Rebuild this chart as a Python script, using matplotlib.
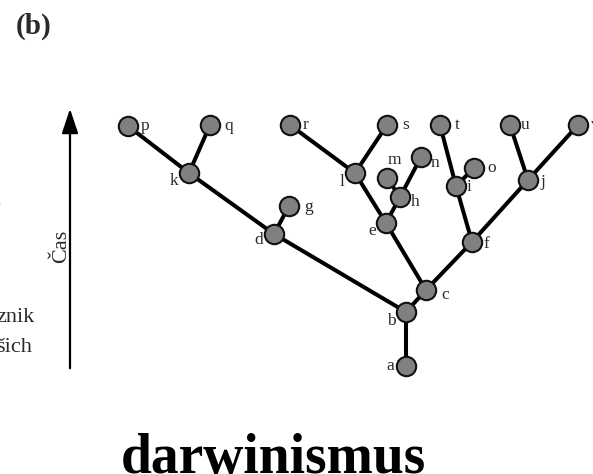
"""Phylogeny sketch (b): branching tree of lineages a..v over time, 'darwinismus'."""

import matplotlib

matplotlib.use("Agg")
import matplotlib.pyplot as plt

W, H = 593, 474

# node name -> (x, y) in picture pixels (y grows downward)
names = ["a", "b", "c", "d", "e", "f", "g", "h", "i", "j", "k", "l",
         "m", "n", "o", "p", "q", "r", "s", "t", "u", "v"]
xs = [406, 406, 426, 274, 386, 472, 289, 400, 456, 528, 189, 355,
      387, 421, 474, 128, 210, 290, 387, 440, 510, 578]
ys = [366, 312, 290, 234, 223, 242, 206, 197, 186, 180, 173, 173,
      178, 157, 168, 126, 125, 125, 125, 125, 125, 125]

edges = [("a", "b"), ("b", "c"), ("b", "d"), ("d", "g"), ("d", "k"),
         ("k", "p"), ("k", "q"), ("c", "e"), ("c", "f"), ("e", "l"),
         ("e", "h"), ("l", "r"), ("l", "s"), ("h", "m"), ("h", "n"),
         ("f", "i"), ("f", "j"), ("i", "t"), ("i", "o"), ("j", "u"),
         ("j", "v")]

# label offset from node centre (dx, dy, ha)
label_pos = {
    "a": (-12, 0, "right"), "b": (-10, 9, "right"), "c": (15, 5, "left"),
    "d": (-11, 6, "right"), "e": (-10, 8, "right"), "f": (11, 2, "left"),
    "g": (15, 1, "left"), "h": (11, 5, "left"), "i": (11, 1, "left"),
    "j": (13, 2, "left"), "k": (-11, 8, "right"), "l": (-11, 9, "right"),
    "m": (7, -18, "center"), "n": (10, 6, "left"), "o": (13, 0, "left"),
    "p": (13, 0, "left"), "q": (14, 1, "left"), "r": (13, 0, "left"),
    "s": (15, 0, "left"), "t": (15, 0, "left"), "u": (11, 0, "left"),
    "v": (13, 0, "left"),
}

pos = {n: (x, y) for n, x, y in zip(names, xs, ys)}

fig = plt.figure(figsize=(W / 100, H / 100), dpi=100)
ax = fig.add_axes([0, 0, 1, 1])
ax.set_xlim(0, W)
ax.set_ylim(H, 0)
ax.axis("off")

serif = ["Liberation Serif", "DejaVu Serif"]
ink = "#2a2a2a"

for u, v in edges:
    (x0, y0), (x1, y1) = pos[u], pos[v]
    ax.plot([x0, x1], [y0, y1], color="black", lw=2.9, solid_capstyle="round",
            zorder=1)

ax.scatter(xs, ys, s=195, c="#808080", edgecolors="#111111", linewidths=1.5,
           zorder=2)

for n, x, y in zip(names, xs, ys):
    dx, dy, ha = label_pos[n]
    ax.text(x + dx, y + dy, n, ha=ha, va="center", fontsize=12.5,
            family=serif, color=ink, zorder=3)

# time arrow
ax.annotate("", xy=(70, 106), xytext=(70, 371),
            arrowprops=dict(arrowstyle="-|>,head_length=1.5,head_width=0.5",
                            color="black", lw=1.6))
ax.text(62, 246, "Čas", rotation=90, ha="center", va="center", fontsize=16,
        family=serif, color=ink)

# cut-off text from the neighbouring panel
ax.text(-7, 208, "r", ha="left", va="center", fontsize=16, family=serif,
        color=ink)
ax.text(-4, 318, "znik", ha="left", va="center", fontsize=16, family=serif,
        color=ink)
ax.text(-4, 347, "šich", ha="left", va="center", fontsize=16, family=serif,
        color=ink)

ax.text(16, 26, "(b)", ha="left", va="center", fontsize=21, weight="bold",
        family=serif, color=ink)

ax.text(273, 473, "darwinismus", ha="center", va="baseline", fontsize=40,
        weight="bold", family=serif, color="black")

fig.savefig("out.png", dpi=100, facecolor="white")
